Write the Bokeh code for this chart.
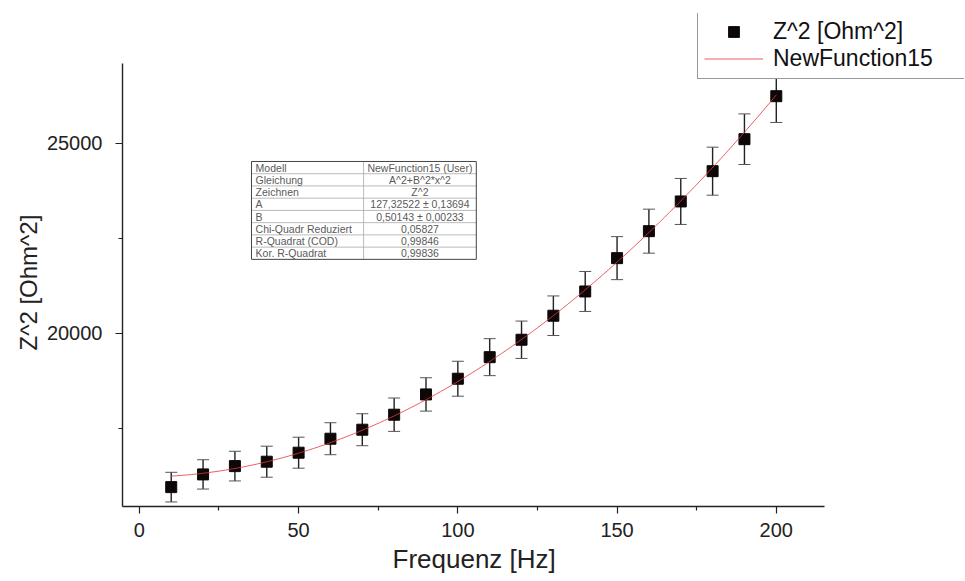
import numpy as np
from bokeh.plotting import figure
from bokeh.models import (ColumnDataSource, Range1d, FixedTicker, Legend, LegendItem,
                          Whisker, TeeHead, BasicTickFormatter, Title)
from bokeh.core.properties import value
from bokeh.embed import file_html
from bokeh.resources import INLINE

# ---------------- data ----------------
freq = [10, 20, 30, 40, 50, 60, 70, 80, 90, 100,
        110, 120, 130, 140, 150, 160, 170, 180, 190, 200]
z2 = [15947, 16282, 16500, 16616, 16853, 17221, 17458, 17853, 18387, 18800,
      19368, 19826, 20458, 21097, 21974, 22684, 23466, 24263, 25105, 26237]
z2_err = [390, 386, 390, 408, 408, 421, 421, 439, 439, 460,
          487, 492, 521, 526, 566, 579, 605, 632, 666, 692]

# fit parameters (from the table in the chart)
fit_A = 127.32522
fit_B = 0.50143

x_ticks = [0, 50, 100, 150, 200]
x_minor = [25, 75, 125, 175]
y_ticks = [20000, 25000]
y_minor = [17500, 22500]

table_left = ["Modell", "Gleichung", "Zeichnen", "A", "B",
              "Chi-Quadr Reduziert", "R-Quadrat (COD)", "Kor. R-Quadrat"]
table_right = ["NewFunction15 (User)", "A^2+B^2*x^2", "Z^2",
               "127,32522 \u00b1 0,13694", "0,50143 \u00b1 0,00233",
               "0,05827", "0,99846", "0,99836"]

series_label = "Z^2 [Ohm^2]"
fit_label = "NewFunction15"
x_title = "Frequenz [Hz]"
y_title = "Z^2 [Ohm^2]"

# ---------------- layout ----------------
FONT = "Liberation Sans"
X_AXIS = (-5.3, 215.1)      # extent of the drawn x axis
Y_AXIS = (15437, 27097)     # extent of the drawn y axis

p = figure(width=964, height=580, output_backend="svg", toolbar_location=None,
           x_range=Range1d(X_AXIS[0], 259.1), y_range=Range1d(Y_AXIS[0], 28413),
           min_border_left=122, min_border_right=0, min_border_top=13,
           min_border_bottom=74)
p.background_fill_color = "white"
p.border_fill_color = "white"
p.outline_line_color = None
p.xgrid.visible = False
p.ygrid.visible = False

for ax in (p.xaxis[0], p.yaxis[0]):
    ax.axis_line_color = "#222222"
    ax.axis_line_width = 1.4
    ax.major_tick_line_color = "#222222"
    ax.major_tick_line_width = 1.2
    ax.minor_tick_line_color = "#222222"
    ax.minor_tick_line_width = 1.2
    ax.major_tick_in = 0
    ax.major_tick_out = 7
    ax.minor_tick_in = 0
    ax.minor_tick_out = 4
    ax.major_label_text_font = FONT
    ax.major_label_text_font_size = "20px"
    ax.major_label_text_color = "#222222"

p.xaxis.bounds = X_AXIS
p.yaxis.bounds = Y_AXIS
p.xaxis.ticker = FixedTicker(ticks=x_ticks, minor_ticks=x_minor)
p.yaxis.ticker = FixedTicker(ticks=y_ticks, minor_ticks=y_minor)
p.yaxis.formatter = BasicTickFormatter(use_scientific=False)
p.xaxis.major_label_standoff = 9
p.yaxis.major_label_standoff = 13

# axis titles, centred on the drawn axis extent (not on the whole frame)
xt = Title(text=x_title, align="left", offset=270, standoff=4,
           text_font=FONT, text_font_size="26px", text_font_style="normal",
           text_color="#222222")
p.add_layout(xt, "below")
yt = Title(text=y_title, align="left", offset=156, standoff=4,
           text_font=FONT, text_font_size="24px", text_font_style="normal",
           text_color="#222222")
p.add_layout(yt, "left")

# ---------------- stats table (inset) ----------------
TX0, TXM, TX1 = 35.2, 70.4, 105.8
TYTOP, ROWH = 24518, 322
n_rows = len(table_left)
row_tops = [TYTOP - i * ROWH for i in range(n_rows + 1)]
p.segment(x0=[TX0] * (n_rows - 1), x1=[TX1] * (n_rows - 1),
          y0=row_tops[1:-1], y1=row_tops[1:-1], line_color="#aaaaaa", line_width=0.8)
p.segment(x0=[TXM], x1=[TXM], y0=[row_tops[0]], y1=[row_tops[-1]],
          line_color="#aaaaaa", line_width=0.8)
p.quad(left=[TX0], right=[TX1], top=[row_tops[0]], bottom=[row_tops[-1]],
       fill_color=None, line_color="#444444", line_width=1)
row_mid = [TYTOP - (i + 0.5) * ROWH for i in range(n_rows)]
p.text(x=[TX0 + 1.3] * n_rows, y=row_mid, text=table_left,
       text_font=value(FONT), text_font_size="10.5px", text_color="#5a5a5a",
       text_align="left", text_baseline="middle")
p.text(x=[(TXM + TX1) / 2] * n_rows, y=row_mid, text=table_right,
       text_font=value(FONT), text_font_size="10.5px", text_color="#5a5a5a",
       text_align="center", text_baseline="middle")

# ---------------- data ----------------
src = ColumnDataSource(data=dict(
    x=freq, y=z2,
    upper=[v + e for v, e in zip(z2, z2_err)],
    lower=[v - e for v, e in zip(z2, z2_err)]))

whisk = Whisker(source=src, base="x", upper="upper", lower="lower",
                line_color="#222222", line_width=1.4,
                upper_head=TeeHead(size=12, line_color="#555555", line_width=1),
                lower_head=TeeHead(size=12, line_color="#555555", line_width=1))
p.add_layout(whisk)

sq = p.scatter("x", "y", source=src, marker="square", size=11,
               fill_color="#0d0707", line_color="#0d0707")

fit_x = np.linspace(freq[0], freq[-1], 120)
fit_y = fit_A ** 2 + fit_B ** 2 * fit_x ** 2
ln = p.line(fit_x, fit_y, line_color="#e03a40", line_width=1, line_alpha=0.8)

legend = Legend(items=[LegendItem(label=series_label, renderers=[sq]),
                       LegendItem(label=fit_label, renderers=[ln])],
                location=(575, 427), orientation="vertical")
legend.label_text_font = FONT
legend.label_text_font_size = "23px"
legend.label_text_color = "#111111"
legend.glyph_width = 59
legend.glyph_height = 27
legend.label_height = 27
legend.label_width = 200
legend.spacing = 0
legend.padding = 6
legend.margin = 0
legend.label_standoff = 10
legend.border_line_color = "#333333"
legend.border_line_width = 1
legend.background_fill_color = "white"
legend.background_fill_alpha = 1.0
p.add_layout(legend, "center")

open("out.html", "w").write(file_html(p, INLINE))
